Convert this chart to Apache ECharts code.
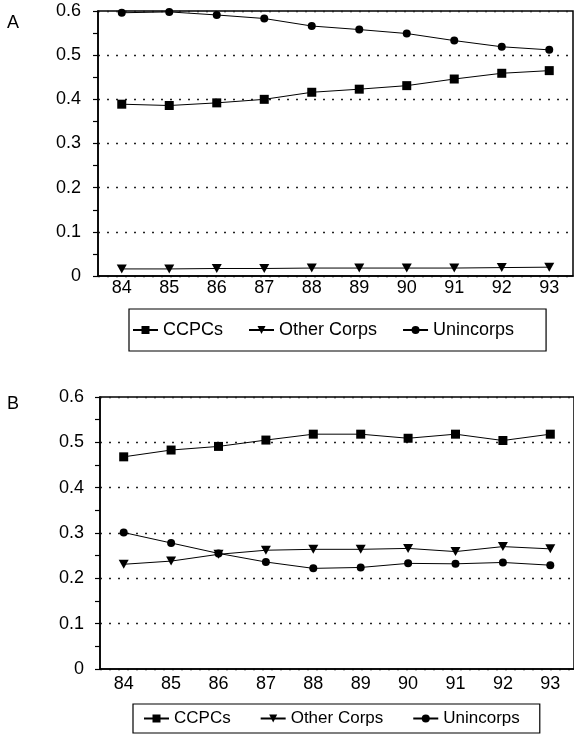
<!DOCTYPE html>
<html>
<head>
<meta charset="utf-8">
<script src="https://cdn.jsdelivr.net/npm/echarts@6/dist/echarts.min.js"></script>
<style>
html,body{margin:0;padding:0;background:#fff;}
#chart{width:574px;height:742px;}
</style>
</head>
<body>
<div id="chart"></div>
<script>
// Categories (years)
const years = ['84', '85', '86', '87', '88', '89', '90', '91', '92', '93'];
const seriesNames = ['CCPCs', 'Other Corps', 'Unincorps'];
const panelLabels = ['A', 'B'];
// Y axis scale
const yMin = 0, yMax = 0.6, yStep = 0.1;

// Panel A values
const aCCPCs     = [0.389, 0.386, 0.392, 0.400, 0.416, 0.423, 0.431, 0.446, 0.459, 0.465];
const aOther     = [0.016, 0.016, 0.017, 0.017, 0.018, 0.018, 0.018, 0.018, 0.019, 0.020];
const aUnincorps = [0.596, 0.598, 0.591, 0.583, 0.566, 0.558, 0.549, 0.533, 0.519, 0.512];

// Panel B values
const bCCPCs     = [0.468, 0.483, 0.491, 0.505, 0.518, 0.518, 0.509, 0.518, 0.504, 0.518];
const bOther     = [0.231, 0.238, 0.253, 0.262, 0.264, 0.264, 0.266, 0.259, 0.270, 0.265];
const bUnincorps = [0.301, 0.278, 0.255, 0.236, 0.222, 0.224, 0.233, 0.232, 0.235, 0.229];

const FONT = 'Liberation Sans, Arial, sans-serif';
const downTri = 'path://M0,0L10,0L5,10Z';
const symbols = ['rect', downTri, 'circle'];
const symSizes = [9, [10, 9], 8];

function makeXAxis(gridIndex, margin) {
  return {
    type: 'category', gridIndex: gridIndex, data: years, boundaryGap: true,
    axisLine: { lineStyle: { color: '#000', width: 1.5 } },
    axisTick: { alignWithLabel: true, length: 5, lineStyle: { color: '#000', width: 1.2 } },
    axisLabel: { color: '#000', fontFamily: FONT, fontSize: 18, margin: margin },
    splitLine: { show: false }
  };
}
function makeYAxis(gridIndex, margin) {
  return {
    type: 'value', gridIndex: gridIndex, min: yMin, max: yMax, interval: yStep,
    axisLine: { show: true, lineStyle: { color: '#000', width: 1.5 } },
    axisTick: { show: true, length: 5, lineStyle: { color: '#000', width: 1.2 } },
    minorTick: { show: true, splitNumber: 2, length: 5, lineStyle: { color: '#000', width: 1.2 } },
    axisLabel: { color: '#000', fontFamily: FONT, fontSize: 18, margin: margin },
    splitLine: { show: true, lineStyle: { color: '#222', type: [2, 7], width: 1.3 } }
  };
}
function makeSeries(name, idx, data, axisIndex) {
  return {
    type: 'line', name: name, data: data,
    xAxisIndex: axisIndex, yAxisIndex: axisIndex,
    symbol: symbols[idx], symbolSize: symSizes[idx],
    showSymbol: true, animation: false,
    lineStyle: { color: '#000', width: 1 },
    itemStyle: { color: '#000' }
  };
}

const chart = echarts.init(document.getElementById('chart'), null, { renderer: 'canvas' });
chart.setOption({
  backgroundColor: '#fff',
  animation: false,
  title: [
    { text: panelLabels[0], left: 7, top: 14, padding: 0,
      textStyle: { fontFamily: FONT, fontSize: 18, fontWeight: 'normal', color: '#000' } },
    { text: panelLabels[1], left: 7, top: 395, padding: 0,
      textStyle: { fontFamily: FONT, fontSize: 18, fontWeight: 'normal', color: '#000' } }
  ],
  grid: [
    { left: 98, right: 1, top: 11, height: 265, show: true, borderColor: '#000', borderWidth: 1.5 },
    { left: 100, right: -6, top: 397, height: 272, show: true, borderColor: '#000', borderWidth: 1.5 }
  ],
  xAxis: [makeXAxis(0, 3), makeXAxis(1, 6)],
  yAxis: [makeYAxis(0, 17), makeYAxis(1, 16)],
  legend: [
    { data: seriesNames, left: 129, top: 309, orient: 'horizontal',
      padding: [12, 32, 12, 3], itemGap: 25, itemWidth: 25, itemHeight: 10,
      borderColor: '#000', borderWidth: 1.2, selectedMode: false,
      textStyle: { fontFamily: FONT, fontSize: 18, color: '#000' } },
    { data: seriesNames, left: 133, top: 704, orient: 'horizontal',
      padding: [6, 20, 6, 10], itemGap: 29, itemWidth: 25, itemHeight: 10,
      borderColor: '#000', borderWidth: 1.2, selectedMode: false,
      textStyle: { fontFamily: FONT, fontSize: 17, color: '#000' } }
  ],
  series: [
    makeSeries(seriesNames[0], 0, aCCPCs, 0),
    makeSeries(seriesNames[1], 1, aOther, 0),
    makeSeries(seriesNames[2], 2, aUnincorps, 0),
    makeSeries(seriesNames[0], 0, bCCPCs, 1),
    makeSeries(seriesNames[1], 1, bOther, 1),
    makeSeries(seriesNames[2], 2, bUnincorps, 1)
  ]
});
</script>
</body>
</html>
